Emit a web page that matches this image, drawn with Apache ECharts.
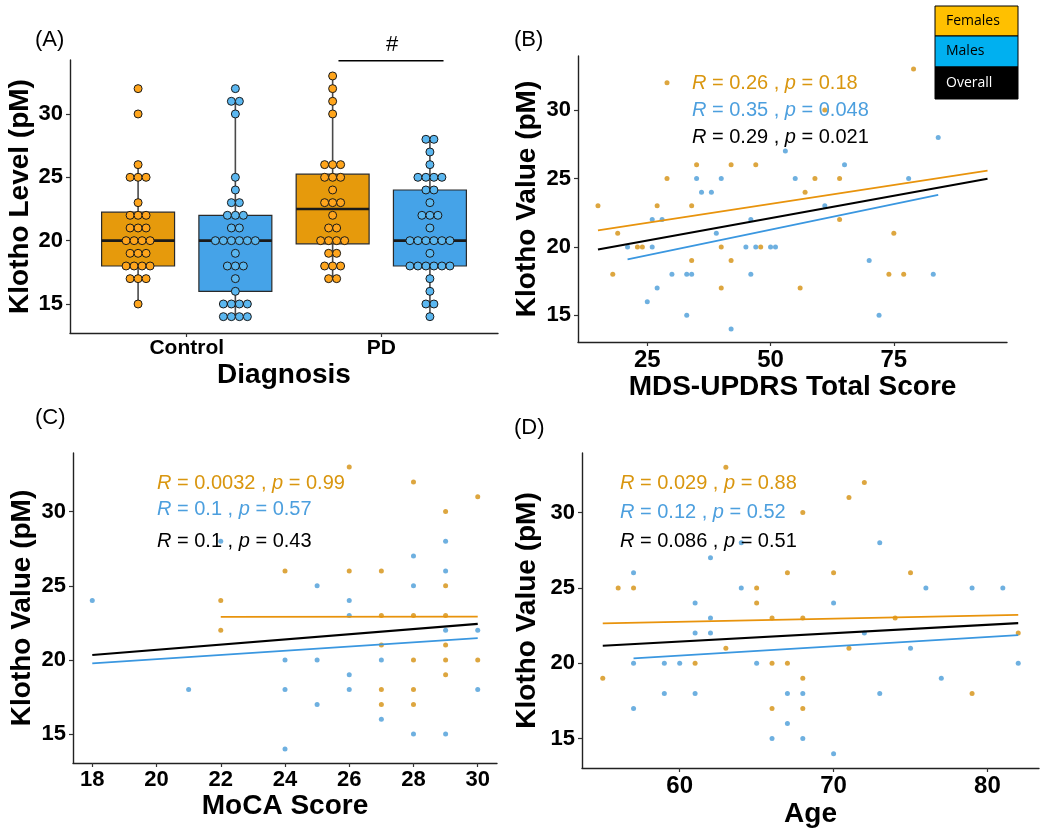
<!DOCTYPE html>
<html>
<head>
<meta charset="utf-8">
<title>Klotho by diagnosis and clinical scores</title>
<script src="https://cdn.jsdelivr.net/npm/echarts@6/dist/echarts.min.js"></script>
<style>
  html, body { margin: 0; padding: 0; background: #fff; }
  #chart { width: 1050px; height: 837px; }
</style>
</head>
<body>
<div id="chart"></div>
<script>
// ---------- panel A : Klotho level by diagnosis and sex ----------
const groups = ['Control', 'PD'];
const ctrlFemale = [32, 30, 26, 25, 25, 25, 23, 22, 22, 22, 21, 21, 21, 20, 20, 20, 20,
  19, 19, 19, 18, 18, 18, 18, 17, 17, 17, 15];
const ctrlMale = [32, 31, 31, 30, 25, 24, 23, 23, 22, 22, 22, 21, 21, 20, 20, 20, 20, 20, 20,
  19, 18, 18, 18, 17, 16, 15, 15, 15, 15, 14, 14, 14, 14];
const pdFemale = [33, 32, 31, 30, 26, 26, 26, 25, 25, 25, 24, 23, 23, 23, 22, 21, 21,
  20, 20, 20, 20, 19, 19, 18, 18, 18, 17, 17];
const pdMale = [28, 28, 27, 26, 25, 25, 25, 25, 24, 24, 23, 22, 22, 22, 21, 20, 20, 20, 20, 20, 20,
  19, 18, 18, 18, 18, 18, 18, 17, 16, 15, 15, 14];
// [lower whisker, Q1, median, Q3, upper whisker]
const ctrlFemaleBox = [15, 18, 20, 22.25, 26];
const ctrlMaleBox = [14, 16, 20, 22, 31];
const pdFemaleBox = [17, 19.75, 22.5, 25.25, 33];
const pdMaleBox = [14, 18, 20, 24, 28];

// ---------- panel B : MDS-UPDRS total score ----------
const updrsFemale = [[29, 32], [35, 26], [42, 26], [47, 26], [29, 25], [15, 23], [27, 23], [34, 23],
  [19, 21], [23, 20], [24, 20], [40, 20], [48, 20], [34, 19], [42, 19], [18, 18], [40, 17],
  [79, 33], [61, 30], [59, 25], [64, 25], [57, 24], [64, 22], [75, 21], [74, 18], [77, 18],
  [56, 17], [94, 32]];
const updrsMale = [[35, 25], [40, 25], [36, 24], [38, 24], [26, 22], [28, 22], [46, 22], [39, 21],
  [21, 20], [26, 20], [45, 20], [47, 20], [50, 20], [51, 20], [30, 18], [33, 18], [34, 18],
  [46, 18], [27, 17], [25, 16], [33, 15], [42, 14], [84, 28], [53, 27], [65, 26], [55, 25],
  [78, 25], [61, 23], [70, 19], [83, 18], [72, 15]];
const updrsFitFemale = [[15, 21.2], [94, 25.58]];
const updrsFitMale = [[21, 19.08], [84, 23.81]];
const updrsFitAll = [[15, 19.81], [94, 24.98]];

// ---------- panel C : MoCA score ----------
const mocaFemale = [[22, 24], [22, 22], [24, 26], [26, 33], [26, 26], [27, 26], [27, 23], [27, 21],
  [27, 18], [27, 17], [28, 32], [28, 23], [28, 20], [28, 18], [28, 17], [29, 30], [29, 25],
  [29, 23], [29, 21], [29, 20], [29, 19], [30, 31], [30, 20]];
const mocaMale = [[18, 24], [22, 28], [21, 18], [24, 20], [24, 18], [24, 14], [25, 25], [25, 20],
  [25, 17], [26, 24], [26, 23], [26, 19], [26, 18], [27, 20], [27, 16], [28, 27], [28, 25],
  [28, 15], [29, 28], [29, 26], [29, 22], [29, 15], [30, 22], [30, 18]];
const mocaFitFemale = [[22, 22.9], [30, 22.92]];
const mocaFitMale = [[18, 19.77], [30, 21.47]];
const mocaFitAll = [[18, 20.33], [30, 22.43]];

// ---------- panel D : age ----------
const ageFemale = [[63, 33], [56, 25], [57, 25], [65, 25], [67, 26], [65, 24], [66, 23], [63, 21],
  [61, 20], [66, 20], [67, 20], [55, 19], [66, 17], [68, 30], [72, 32], [71, 31], [70, 26],
  [75, 26], [68, 23], [74, 23], [82, 22], [71, 21], [68, 19], [79, 18], [68, 17]];
const ageMale = [[64, 28], [62, 27], [57, 26], [64, 25], [61, 24], [62, 23], [61, 22], [62, 22],
  [57, 20], [59, 20], [60, 20], [65, 20], [59, 18], [61, 18], [67, 18], [57, 17], [67, 16],
  [66, 15], [73, 28], [76, 25], [79, 25], [81, 25], [70, 24], [72, 22], [75, 21], [77, 19],
  [68, 18], [73, 18], [82, 20], [68, 15], [70, 14]];
const ageFitFemale = [[55, 22.64], [82, 23.21]];
const ageFitMale = [[57, 20.33], [82, 21.87]];
const ageFitAll = [[55, 21.16], [82, 22.66]];

// correlation labels [R, p] for female, male, overall
const updrsStats = [['0.26', '0.18'], ['0.35', '0.048'], ['0.29', '0.021']];
const mocaStats = [['0.0032', '0.99'], ['0.1', '0.57'], ['0.1', '0.43']];
const ageStats = [['0.029', '0.88'], ['0.12', '0.52'], ['0.086', '0.51']];

const yTicks = [15, 20, 25, 30];
const updrsTicks = [25, 50, 75];
const mocaTicks = [18, 20, 22, 24, 26, 28, 30];
const ageTicks = [60, 70, 80];

// ---------- styling ----------
const FONT = '"Liberation Sans", Arial, sans-serif';
const C = {
  boxF: '#E69A0C', boxM: '#45A3E8',
  dotF: '#FFA51C', dotM: '#5BB7F0',
  ptF: '#D4900F', ptM: '#4A9CD8',
  lnF: '#E8930C', lnM: '#3A97E0',
  txF: '#D9960F', txM: '#4C9FDE'
};
const BOX_W = 0.375;
const DOT_STEP = 8;

const chart = echarts.init(document.getElementById('chart'));

function countValues(vals) {
  const m = new Map();
  vals.forEach(v => m.set(v, (m.get(v) || 0) + 1));
  return [...m.entries()];
}

function renderBox(params, api) {
  const x = api.value(0);
  const lo = api.value(1), q1 = api.value(2), md = api.value(3), q3 = api.value(4), hi = api.value(5);
  const tl = api.coord([x - BOX_W / 2, q3]);
  const br = api.coord([x + BOX_W / 2, q1]);
  const ml = api.coord([x - BOX_W / 2, md]);
  const mr = api.coord([x + BOX_W / 2, md]);
  const top = api.coord([x, hi]), bot = api.coord([x, lo]);
  const wStyle = { stroke: '#4a4a4a', lineWidth: 1.6 };
  return {
    type: 'group',
    children: [
      { type: 'line', shape: { x1: top[0], y1: top[1], x2: top[0], y2: tl[1] }, style: wStyle },
      { type: 'line', shape: { x1: bot[0], y1: br[1], x2: bot[0], y2: bot[1] }, style: wStyle },
      { type: 'rect', shape: { x: tl[0], y: tl[1], width: br[0] - tl[0], height: br[1] - tl[1] },
        style: { fill: api.visual('color'), stroke: '#2a2a2a', lineWidth: 1.2 } },
      { type: 'line', shape: { x1: ml[0], y1: ml[1], x2: mr[0], y2: mr[1] },
        style: { stroke: '#1a1a1a', lineWidth: 2.6 } }
    ]
  };
}

function renderDots(params, api) {
  const c = api.coord([api.value(0), api.value(1)]);
  const n = api.value(2);
  const kids = [];
  for (let i = 0; i < n; i++) {
    kids.push({
      type: 'circle',
      shape: { cx: c[0] + (i - (n - 1) / 2) * DOT_STEP, cy: c[1], r: 4 },
      style: { fill: api.visual('color'), stroke: '#1a1a1a', lineWidth: 1 }
    });
  }
  return { type: 'group', children: kids };
}

function dotItems(vals, x, color) {
  return countValues(vals).map(([v, n]) => ({ value: [x, v, n], itemStyle: { color } }));
}

const boxData = [
  { value: [0.75, ...ctrlFemaleBox], itemStyle: { color: C.boxF } },
  { value: [1.25, ...ctrlMaleBox], itemStyle: { color: C.boxM } },
  { value: [1.75, ...pdFemaleBox], itemStyle: { color: C.boxF } },
  { value: [2.25, ...pdMaleBox], itemStyle: { color: C.boxM } }
];
const dotData = [
  ...dotItems(ctrlFemale, 0.75, C.dotF),
  ...dotItems(ctrlMale, 1.25, C.dotM),
  ...dotItems(pdFemale, 1.75, C.dotF),
  ...dotItems(pdMale, 2.25, C.dotM)
];

function axisCommon(extra) {
  return Object.assign({
    type: 'value',
    nameLocation: 'middle',
    nameTextStyle: { fontFamily: FONT, fontSize: 28, fontWeight: 'bold', color: '#000' },
    axisLine: { show: true, lineStyle: { color: '#222', width: 1.4 } },
    axisTick: { show: true, length: 4, lineStyle: { color: '#333', width: 1.2 } },
    axisLabel: { fontFamily: FONT, fontSize: 22, fontWeight: 'bold', color: '#000', margin: 6 },
    splitLine: { show: false }
  }, extra);
}

function xAxisFor(grid, name, min, max, ticks, gap, size) {
  return axisCommon({
    gridIndex: grid, name, nameGap: gap, min, max,
    axisTick: { show: true, length: 4, lineStyle: { color: '#333', width: 1.2 }, customValues: ticks },
    axisLabel: { fontFamily: FONT, fontSize: size, fontWeight: 'bold', color: '#000', margin: 6, customValues: ticks }
  });
}

function yAxisFor(grid, name, min, max, gap) {
  return axisCommon({
    gridIndex: grid, name, nameGap: gap, nameRotate: 90, min, max,
    axisTick: { show: true, length: 4, lineStyle: { color: '#333', width: 1.2 }, customValues: yTicks },
    axisLabel: { fontFamily: FONT, fontSize: 22, fontWeight: 'bold', color: '#000', margin: 7, customValues: yTicks }
  });
}

function scatterSeries(idx, data, color) {
  return {
    type: 'scatter', xAxisIndex: idx, yAxisIndex: idx, data,
    symbolSize: 5, itemStyle: { color }, silent: true, z: 2
  };
}
function fitSeries(idx, data, color, width) {
  return {
    type: 'line', xAxisIndex: idx, yAxisIndex: idx, data,
    symbol: 'none', lineStyle: { color, width }, silent: true, z: 3
  };
}

function statText(stats, x, ys) {
  const colors = [C.txF, C.txM, '#000'];
  return stats.map((s, i) => ({
    type: 'text', x, y: ys[i], z: 20,
    style: {
      text: '{i|R} = ' + s[0] + ' , {i|p} = ' + s[1],
      fontFamily: FONT, fontSize: 20, fill: colors[i], verticalAlign: 'middle',
      rich: { i: { fontFamily: FONT, fontSize: 20, fontStyle: 'italic', fill: colors[i] } }
    }
  }));
}

function panelLabel(t, x, y) {
  return { type: 'text', x, y, z: 20,
    style: { text: t, fontFamily: FONT, fontSize: 22, fill: '#000', verticalAlign: 'middle' } };
}

const legendRows = [
  { label: 'Females', fill: '#FFC000', text: '#000', y: 6, h: 30 },
  { label: 'Males', fill: '#00B0F0', text: '#000', y: 36, h: 31 },
  { label: 'Overall', fill: '#000000', text: '#fff', y: 67, h: 32 }
];
const legendGraphic = [];
legendRows.forEach(r => {
  legendGraphic.push({ type: 'rect', z: 30, shape: { x: 935, y: r.y, width: 83, height: r.h },
    style: { fill: r.fill, stroke: '#000', lineWidth: 1 } });
  legendGraphic.push({ type: 'text', z: 31, x: 946, y: r.y + r.h / 2,
    style: { text: r.label, fontFamily: '"Open Sans", sans-serif', fontSize: 14, fill: r.text, verticalAlign: 'middle' } });
});

const option = {
  backgroundColor: '#fff',
  animation: false,
  grid: [
    { left: 70, top: 60, width: 428, height: 273, containLabel: false },
    { left: 578, top: 56, width: 429, height: 286, containLabel: false },
    { left: 73, top: 453, width: 424, height: 310, containLabel: false },
    { left: 582, top: 453, width: 457, height: 315, containLabel: false }
  ],
  xAxis: [
    axisCommon({
      gridIndex: 0, name: 'Diagnosis', nameGap: 28, min: 0.4, max: 2.6,
      axisTick: { show: true, length: 4, lineStyle: { color: '#333', width: 1.2 }, customValues: [1, 2] },
      axisLabel: { fontFamily: FONT, fontSize: 21, fontWeight: 'bold', color: '#000', margin: 5,
        customValues: [1, 2], formatter: v => groups[Math.round(v) - 1] }
    }),
    xAxisFor(1, 'MDS-UPDRS Total Score', 10.95, 97.95, updrsTicks, 28, 24),
    xAxisFor(2, 'MoCA Score', 17.4, 30.6, mocaTicks, 29, 22),
    xAxisFor(3, 'Age', 53.65, 83.35, ageTicks, 32, 24)
  ],
  yAxis: [
    yAxisFor(0, 'Klotho Level (pM)', 12.71, 34.26, 34),
    yAxisFor(1, 'Klotho Value (pM)', 13.05, 33.95, 37),
    yAxisFor(2, 'Klotho Value (pM)', 13.05, 33.95, 37),
    yAxisFor(3, 'Klotho Value (pM)', 13.05, 33.95, 41)
  ],
  series: [
    { type: 'custom', xAxisIndex: 0, yAxisIndex: 0, renderItem: renderBox, data: boxData, z: 2, silent: true },
    { type: 'custom', xAxisIndex: 0, yAxisIndex: 0, renderItem: renderDots, data: dotData, z: 3, silent: true },
    { type: 'line', xAxisIndex: 0, yAxisIndex: 0, data: [[1.78, 34.2], [2.32, 34.2]], clip: false,
      symbol: 'none', lineStyle: { color: '#000', width: 1.3 }, silent: true },

    scatterSeries(1, updrsFemale, C.ptF), scatterSeries(1, updrsMale, C.ptM),
    fitSeries(1, updrsFitFemale, C.lnF, 1.8), fitSeries(1, updrsFitMale, C.lnM, 1.8), fitSeries(1, updrsFitAll, '#000', 2.2),

    scatterSeries(2, mocaFemale, C.ptF), scatterSeries(2, mocaMale, C.ptM),
    fitSeries(2, mocaFitFemale, C.lnF, 1.8), fitSeries(2, mocaFitMale, C.lnM, 1.8), fitSeries(2, mocaFitAll, '#000', 2.2),

    scatterSeries(3, ageFemale, C.ptF), scatterSeries(3, ageMale, C.ptM),
    fitSeries(3, ageFitFemale, C.lnF, 1.8), fitSeries(3, ageFitMale, C.lnM, 1.8), fitSeries(3, ageFitAll, '#000', 2.2)
  ],
  graphic: [
    panelLabel('(A)', 35, 40),
    panelLabel('(B)', 514, 40),
    panelLabel('(C)', 35, 418),
    panelLabel('(D)', 514, 428),
    { type: 'text', x: 392, y: 45, z: 20,
      style: { text: '#', fontFamily: FONT, fontSize: 22, fill: '#000', align: 'center', verticalAlign: 'middle' } },
    ...statText(updrsStats, 692, [83, 110, 137]),
    ...statText(mocaStats, 157, [483, 509, 541]),
    ...statText(ageStats, 620, [483, 512, 541]),
    ...legendGraphic
  ]
};

chart.setOption(option);
window.addEventListener('resize', () => chart.resize());
</script>
</body>
</html>
